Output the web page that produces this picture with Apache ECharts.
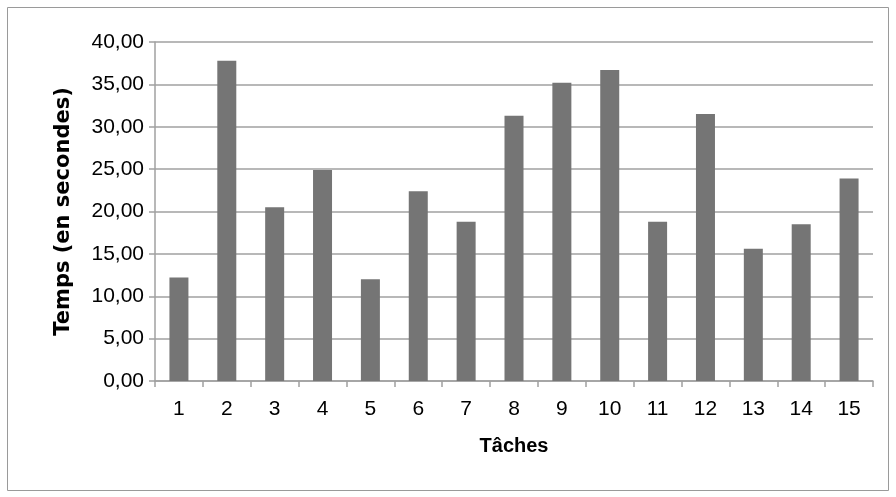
<!DOCTYPE html>
<html>
<head>
<meta charset="utf-8">
<script src="https://cdn.jsdelivr.net/npm/echarts@6/dist/echarts.min.js"></script>
<style>
  html, body { margin: 0; padding: 0; background: #fff; }
  #chart { width: 896px; height: 497px; }
</style>
</head>
<body>
<div id="chart"></div>
<script>
// données
const taches = ['1', '2', '3', '4', '5', '6', '7', '8', '9', '10', '11', '12', '13', '14', '15']
const temps = [12.2, 37.8, 20.5, 24.9, 12.0, 22.4, 18.8, 31.3, 35.2, 36.7, 18.8, 31.5, 15.6, 18.5, 23.9]

const font = 'Liberation Sans, Arial, Helvetica, sans-serif'

const chart = echarts.init(document.getElementById('chart'))
chart.setOption({
    animation: false,
    graphic: [{
        type: 'rect',
        shape: { x: 7.5, y: 7.5, width: 881, height: 483 },
        style: { fill: 'none', stroke: '#9a9a9a', lineWidth: 1 }
    }],
    grid: { left: 155, right: 23, top: 42, bottom: 116 },
    xAxis: {
        type: 'category',
        data: taches,
        name: 'Tâches',
        nameLocation: 'middle',
        nameGap: 55,
        nameTextStyle: { fontFamily: font, fontSize: 20, fontWeight: 'bold', color: '#000' },
        axisLine: { lineStyle: { color: '#a0a0a0', width: 1.5 } },
        axisTick: { show: true, length: 6, lineStyle: { color: '#a0a0a0', width: 1.5 } },
        axisLabel: { fontFamily: font, fontSize: 21, color: '#000', margin: 18 }
    },
    yAxis: {
        type: 'value',
        min: 0, max: 40, interval: 5,
        name: 'Temps (en secondes)',
        nameLocation: 'middle',
        nameGap: 81,
        nameTextStyle: { fontFamily: 'DejaVu Sans', fontSize: 21, fontWeight: 'bold', color: '#000' },
        axisLine: { show: true, lineStyle: { color: '#a0a0a0', width: 1.5 } },
        axisTick: { show: true, length: 6, lineStyle: { color: '#a0a0a0', width: 1.5 } },
        axisLabel: {
            fontFamily: font, fontSize: 21, color: '#000', margin: 11,
            formatter: v => v.toFixed(2).replace('.', ',')
        },
        splitLine: { lineStyle: { color: '#a0a0a0', width: 1.5 } }
    },
    series: [{
        type: 'bar',
        data: temps,
        barWidth: 19,
        itemStyle: { color: '#757575' }
    }]
})
</script>
</body>
</html>
